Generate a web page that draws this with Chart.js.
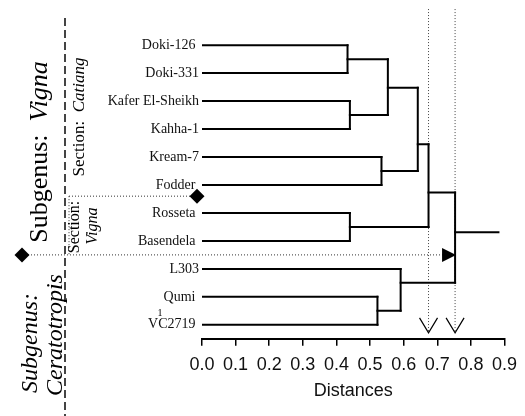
<!DOCTYPE html>
<html>
<head>
<meta charset="utf-8">
<script src="https://cdn.jsdelivr.net/npm/chart.js@4.4.0/dist/chart.umd.min.js"></script>
<style>
    html, body { margin: 0; padding: 0; background: #fff; }
    #dendro { display: block; }
</style>
</head>
<body>
<canvas id="dendro" width="525" height="416"></canvas>
<script>
// leaves, top to bottom (trailing spaces keep the small gaps seen in the original)
const leaves = ['Doki-126 ', 'Doki-331', 'Kafer El-Sheikh', 'Kahha-1', 'Kream-7', 'Fodder ',
    'Rosseta ', 'Basendela ', 'L303', 'Qumi ', 'VC2719 '];

// clusters: two children (leaf index or 'cN'), joining distance, row where the branch leaves
const mergeLeft  = [0, 2, 'c0', 4, 'c2', 6, 'c4', 9, 8, 'c6'];
const mergeRight = [1, 3, 'c1', 5, 'c3', 7, 'c5', 10, 'c7', 'c8'];
const mergeDist  = [0.433, 0.44, 0.553, 0.534, 0.642, 0.44, 0.674, 0.522, 0.591, 0.753];
const mergeRow   = [0.5, 2.5, 1.52, 4.5, 3.54, 6.5, 5.27, 9.5, 8.5, 6.69];
const rootEnd = 0.882;

// cut levels marked with the dotted lines and arrows
const cutLevels = [0.674, 0.753];

const distanceTicks = [0, 0.1, 0.2, 0.3, 0.4, 0.5, 0.6, 0.7, 0.8, 0.9];

const rowOf = k => typeof k === 'number' ? k : mergeRow[+k.slice(1)];
const distOf = k => typeof k === 'number' ? 0 : mergeDist[+k.slice(1)];

// build the tree segments
const segments = [];
mergeDist.forEach((d, i) => {
    [mergeLeft[i], mergeRight[i]].forEach(k => {
        segments.push([{ x: distOf(k), y: rowOf(k) }, { x: d, y: rowOf(k) }]);
    });
    segments.push([{ x: d, y: rowOf(mergeLeft[i]) }, { x: d, y: rowOf(mergeRight[i]) }]);
});
const last = mergeDist.length - 1;
segments.push([{ x: mergeDist[last], y: mergeRow[last] }, { x: rootEnd, y: mergeRow[last] }]);

const datasets = segments.map(s => ({
    data: s,
    borderColor: '#000',
    borderWidth: 2,
    borderCapStyle: 'square',
    pointRadius: 0,
    showLine: true
}));

cutLevels.forEach(c => {
    datasets.push({
        data: [{ x: c, y: -1.29 }, { x: c, y: 10.29 }],
        borderColor: '#444',
        borderWidth: 1,
        borderDash: [1, 2],
        pointRadius: 0,
        showLine: true
    });
});

const serif = '"Liberation Serif", "Times New Roman", serif';

function diamond(ctx, x, y, r) {
    ctx.beginPath();
    ctx.moveTo(x - r, y);
    ctx.lineTo(x, y - r);
    ctx.lineTo(x + r, y);
    ctx.lineTo(x, y + r);
    ctx.closePath();
    ctx.fill();
}

// rotated text made of pieces [text, font]
function upText(ctx, cx, cy, parts) {
    ctx.save();
    ctx.translate(cx, cy);
    ctx.rotate(-Math.PI / 2);
    ctx.textBaseline = 'middle';
    ctx.textAlign = 'left';
    let total = 0;
    parts.forEach(p => { ctx.font = p[1]; total += ctx.measureText(p[0]).width; });
    let x = -total / 2;
    parts.forEach(p => {
        ctx.font = p[1];
        ctx.fillText(p[0], x, 0);
        x += ctx.measureText(p[0]).width;
    });
    ctx.restore();
}

const decorations = {
    id: 'decorations',
    afterDraw(chart) {
        const { ctx, scales: { x, y }, chartArea } = chart;
        ctx.save();
        ctx.fillStyle = '#000';
        ctx.strokeStyle = '#000';

        // dashed divider
        ctx.strokeStyle = '#444';
        ctx.lineWidth = 2;
        ctx.setLineDash([8, 4]);
        ctx.beginPath();
        ctx.moveTo(65, 18);
        ctx.lineTo(65, 416);
        ctx.stroke();

        // dotted separators
        ctx.strokeStyle = '#333';
        ctx.lineWidth = 1;
        ctx.setLineDash([1, 2]);
        const yLow = y.getPixelForValue(7.5);
        const yUp = y.getPixelForValue(5.4);
        const xCut = x.getPixelForValue(cutLevels[1]);
        ctx.beginPath();
        ctx.moveTo(22, yLow);
        ctx.lineTo(xCut - 12, yLow);
        ctx.moveTo(69, yUp);
        ctx.lineTo(chartArea.left - 5, yUp);
        ctx.moveTo(69, yUp);
        ctx.lineTo(69, yLow);
        ctx.stroke();
        ctx.setLineDash([]);

        diamond(ctx, 22, yLow, 7.5);
        diamond(ctx, chartArea.left - 5, yUp, 7.5);

        // triangle pointing at the final join
        ctx.beginPath();
        ctx.moveTo(xCut + 1, yLow);
        ctx.lineTo(xCut - 13, yLow - 7);
        ctx.lineTo(xCut - 13, yLow + 7);
        ctx.closePath();
        ctx.fill();

        // arrows under the cut lines
        ctx.strokeStyle = '#000';
        ctx.lineWidth = 1.2;
        const tip = y.getPixelForValue(10.29);
        cutLevels.forEach(c => {
            const px = x.getPixelForValue(c);
            ctx.beginPath();
            ctx.moveTo(px - 9, tip - 15);
            ctx.lineTo(px, tip);
            ctx.lineTo(px + 9, tip - 15);
            ctx.stroke();
        });

        // small superscript
        ctx.font = '10px ' + serif;
        ctx.textAlign = 'center';
        ctx.textBaseline = 'middle';
        ctx.fillText('1', 160, y.getPixelForValue(9.58));

        // group labels
        upText(ctx, 40, 152, [['Subgenus:  ', '26px ' + serif], ['Vigna', 'italic 26px ' + serif]]);
        upText(ctx, 80, 117, [['Section:  ', '17px ' + serif], ['Catiang', 'italic 17px ' + serif]]);
        upText(ctx, 75, 227, [['Section:', '16px ' + serif]]);
        upText(ctx, 93, 226, [['Vigna', 'italic 16px ' + serif]]);
        upText(ctx, 31, 343, [['Subgenus:', 'italic 24px ' + serif]]);
        upText(ctx, 56, 335, [['Ceratotropis', 'italic 24px ' + serif]]);
        ctx.restore();
    }
};

new Chart(document.getElementById('dendro'), {
    type: 'scatter',
    data: { datasets },
    options: {
        responsive: false,
        animation: false,
        layout: { padding: { top: 3.2, right: 17.3, bottom: 14, left: 0 } },
        plugins: {
            legend: { display: false },
            tooltip: { enabled: false }
        },
        scales: {
            x: {
                type: 'linear',
                min: 0,
                max: 0.9,
                afterBuildTicks: scale => { scale.ticks = distanceTicks.map(v => ({ value: v })); },
                border: { display: true, color: '#000', width: 2 },
                grid: { display: true, drawOnChartArea: false, drawTicks: true, tickLength: 7, color: '#000', lineWidth: 1.5 },
                ticks: {
                    padding: 8,
                    color: '#111',
                    font: { family: '"Liberation Sans", Arial, sans-serif', size: 18 },
                    callback: v => v.toFixed(1)
                },
                title: {
                    display: true,
                    text: 'Distances',
                    color: '#111',
                    font: { family: '"Liberation Sans", Arial, sans-serif', size: 18 },
                    padding: { top: -3, bottom: 0 }
                }
            },
            y: {
                type: 'linear',
                min: -1.5,
                max: 10.5,
                reverse: true,
                afterBuildTicks: scale => { scale.ticks = leaves.map((_, i) => ({ value: i })); },
                afterFit: scale => {
                    scale.width = 202;
                    scale.paddingTop = 0;
                    scale.paddingBottom = 0;
                },
                border: { display: false },
                grid: { display: false, drawTicks: false },
                ticks: {
                    padding: 3,
                    color: '#111',
                    font: { family: serif, size: 14 },
                    callback: v => leaves[v]
                }
            }
        }
    },
    plugins: [decorations]
});
</script>
</body>
</html>
